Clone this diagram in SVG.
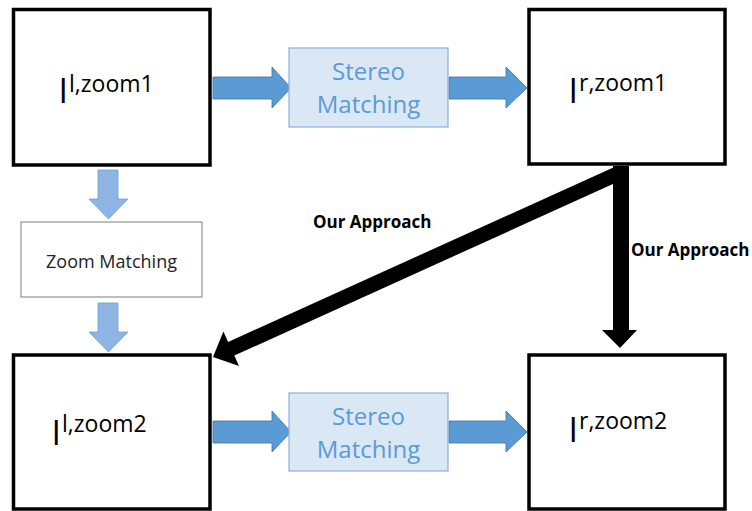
<svg xmlns="http://www.w3.org/2000/svg" width="752" height="511" viewBox="0 0 752 511">
<style>
.img{fill:#fff;stroke:#000;stroke-width:3.5}
.nm{font-family:"Open Sans","Liberation Sans",sans-serif;font-size:34px;fill:#000}
.sup{font-size:23px}
.sm{fill:#dae7f5;stroke:#8fb0d9;stroke-width:1.2}
.smt{font-family:"Open Sans","Liberation Sans",sans-serif;font-size:24px;fill:#5b9bd5;text-anchor:middle}
.harr{fill:#5b9bd5;stroke:#41719c;stroke-width:0.8}
.varr{fill:#8db4e2;stroke:#6f9fd0;stroke-width:0.8}
.blk{fill:#000}
.lbl{font-family:"Open Sans","Liberation Sans",sans-serif;font-size:17px;font-weight:bold;fill:#000}
</style>
<rect width="752" height="511" fill="#fff"/>
<g id="connectors">
<polygon class="harr" points="213,77 272,77 272,67 291,88 272,108 272,99 213,99"/>
<polygon class="harr" points="449,77 506,77 506,67 527,88 506,108 506,99 449,99"/>
<polygon class="harr" points="213,421 272,421 272,411 291,432 272,452 272,443 213,443"/>
<polygon class="harr" points="449,421 506,421 506,411 527,432 506,452 506,443 449,443"/>
<polygon class="varr" points="98,170 118,170 118,199 128,199 108.5,219 89,199 98,199"/>
<polygon class="varr" points="98,303 118,303 118,332 128,332 108.5,352 89,332 98,332"/>
<polygon class="blk" points="613,166 629,166 629,330 637,330 620,348 602,330 613,330"/>
<polygon class="blk" points="613.9,167.2 228.1,341.9 223.4,331.4 213,357 239,366.1 234.3,355.6 620.1,180.8"/>
<text class="lbl" x="313" y="228">Our Approach</text>
<text class="lbl" x="631" y="256">Our Approach</text>
</g>
<g id="n_l1">
<rect class="img" x="13.5" y="9.5" width="196.5" height="155.5"/>
<text class="nm" x="58.5" y="103">I<tspan class="sup" dx="1" dy="-11">l,zoom1</tspan></text>
</g>
<g id="n_r1">
<rect class="img" x="529" y="9.5" width="196" height="154.5"/>
<text class="nm" x="568.5" y="103">I<tspan class="sup" dx="1" dy="-12">r,zoom1</tspan></text>
</g>
<g id="n_l2">
<rect class="img" x="13.5" y="355" width="196.5" height="154"/>
<text class="nm" x="51.5" y="445">I<tspan class="sup" dx="1" dy="-13">l,zoom2</tspan></text>
</g>
<g id="n_r2">
<rect class="img" x="529" y="355" width="196" height="154"/>
<text class="nm" x="568.5" y="442">I<tspan class="sup" dx="1" dy="-13">r,zoom2</tspan></text>
</g>
<g id="n_sm1">
<rect class="sm" x="289" y="48" width="159" height="79"/>
<text class="smt" x="368.5" y="80">Stereo</text>
<text class="smt" x="368.5" y="113">Matching</text>
</g>
<g id="n_sm2">
<rect class="sm" x="289" y="393" width="159" height="78"/>
<text class="smt" x="368.5" y="425">Stereo</text>
<text class="smt" x="368.5" y="458">Matching</text>
</g>
<g id="n_zm">
<rect x="21" y="222" width="181" height="75" fill="#fff" stroke="#7f7f7f" stroke-width="1"/>
<text x="111.5" y="268" font-family="Open Sans, Liberation Sans, sans-serif" font-size="18" fill="#222" text-anchor="middle">Zoom Matching</text>
</g>
</svg>
